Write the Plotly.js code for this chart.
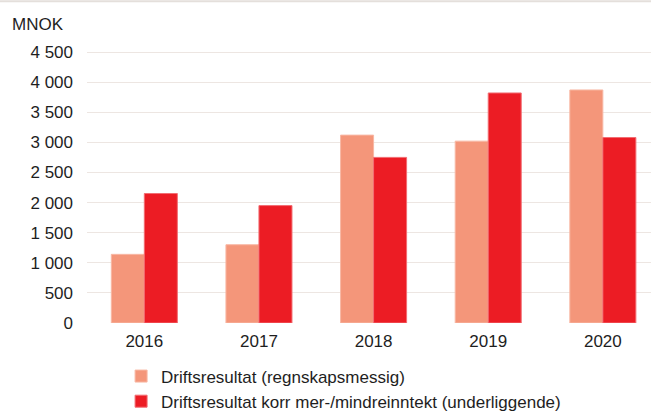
<!DOCTYPE html>
<html>
<head>
<meta charset="utf-8">
<script src="https://cdn.plot.ly/plotly-3.0.1.min.js"></script>
<style>html,body{margin:0;padding:0;background:#fff;}#chart{width:651px;height:414px;}</style>
</head>
<body>
<div id="chart"></div>
<script>
const years = ['2016', '2017', '2018', '2019', '2020'];
const regnskapsmessig = [1140, 1300, 3120, 3020, 3870];
const underliggende = [2150, 1950, 2750, 3820, 3080];
const seriesNames = ['Driftsresultat (regnskapsmessig)', 'Driftsresultat korr mer-/mindreinntekt (underliggende)'];
const yTicks = [0, 500, 1000, 1500, 2000, 2500, 3000, 3500, 4000, 4500];

const font = {family: 'Liberation Sans, Arial, sans-serif', size: 17, color: '#1e1e1e'};

const traces = [
  {type: 'bar', x: years, y: regnskapsmessig, name: seriesNames[0], legendgroup: 'a',
   marker: {color: '#F4967A', line: {color: '#F8B8A4', width: 1}}, hoverinfo: 'x+y'},
  {type: 'bar', x: years, y: underliggende, name: seriesNames[1], legendgroup: 'b',
   marker: {color: '#EC1C24', line: {color: '#F26D72', width: 1}}, hoverinfo: 'x+y'}
];

const layout = {
  width: 651, height: 414,
  margin: {l: 87, r: 0, t: 46, b: 91, autoexpand: false},
  paper_bgcolor: '#ffffff', plot_bgcolor: '#ffffff',
  font: font,
  separators: ', ',
  barmode: 'group',
  bargap: 0.424,
  bargroupgap: 0,
  xaxis: {type: 'category', range: [-0.5, 4.42], showgrid: false, zeroline: false, showline: false,
          ticks: '', tickfont: font, ticklabelstandoff: 6, fixedrange: true, automargin: false},
  yaxis: {range: [0, 4600], tickvals: yTicks, separatethousands: true, tickformat: ',d',
          showgrid: true, gridcolor: '#EDE6E2', gridwidth: 1, zeroline: false, showline: false,
          ticks: '', tickfont: font, ticklabelstandoff: 13, fixedrange: true, automargin: false},
  showlegend: true,
  legend: {orientation: 'v', xref: 'container', yref: 'container', x: 0.186, y: 0.134, xanchor: 'left', yanchor: 'top',
           font: font, traceorder: 'grouped', tracegroupgap: 0, bgcolor: 'rgba(0,0,0,0)', itemwidth: 30},
  annotations: [{text: 'MNOK', xref: 'paper', yref: 'paper', x: -0.136, y: 1.076, xanchor: 'left', yanchor: 'middle',
                 showarrow: false, font: font}],
  shapes: [{type: 'line', xref: 'paper', yref: 'paper', x0: -0.16, x1: 1.0, y0: 1.162, y1: 1.162,
            line: {color: '#E4DFDB', width: 2}}]
};

Plotly.newPlot('chart', traces, layout, {displayModeBar: false, staticPlot: true});
</script>
</body>
</html>
